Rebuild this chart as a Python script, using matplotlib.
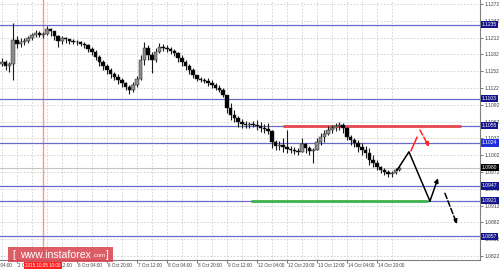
import numpy as np
import matplotlib.pyplot as plt
from matplotlib.patches import Rectangle
import matplotlib.transforms as mtransforms

plt.rcParams['font.family'] = ['Liberation Sans', 'DejaVu Sans']

# EURUSD H2 bars (high / low / close)
hi = [1.1176, 1.1172, 1.1168, 1.1238, 1.1215, 1.1211, 1.1211, 1.1215, 1.1220, 1.1226,
      1.1224, 1.1222, 1.1233, 1.1229, 1.1224, 1.1217, 1.1215, 1.1213, 1.1210, 1.1210,
      1.1208, 1.1206, 1.1204, 1.1201, 1.1195, 1.1190, 1.1181, 1.1172, 1.1165, 1.1158,
      1.1151, 1.1147, 1.1140, 1.1133, 1.1127, 1.1133, 1.1143, 1.1181, 1.1204, 1.1199,
      1.1186, 1.1193, 1.1202, 1.1201, 1.1199, 1.1195, 1.1192, 1.1186, 1.1181, 1.1172,
      1.1165, 1.1158, 1.1145, 1.1142, 1.1140, 1.1140, 1.1136, 1.1131, 1.1127, 1.1122,
      1.1110, 1.1095, 1.1083, 1.1072, 1.1067, 1.1063, 1.1061, 1.1063, 1.1065, 1.1061,
      1.1058, 1.1060, 1.1047, 1.1029, 1.1027, 1.1033, 1.1047, 1.1019, 1.1017, 1.1015,
      1.1033, 1.1024, 1.1019, 1.1015, 1.1033, 1.1042, 1.1047, 1.1054, 1.1056, 1.1060,
      1.1061, 1.1060, 1.1052, 1.1038, 1.1033, 1.1029, 1.1024, 1.1019, 1.1015, 1.1002,
      1.0993, 1.0983, 1.0979, 1.0976, 1.0974, 1.0979, 1.0983]
lo = [1.1161, 1.1154, 1.1151, 1.1136, 1.1193, 1.1195, 1.1199, 1.1202, 1.1208, 1.1213,
      1.1213, 1.1211, 1.1217, 1.1215, 1.1208, 1.1195, 1.1201, 1.1202, 1.1201, 1.1201,
      1.1199, 1.1197, 1.1193, 1.1186, 1.1181, 1.1172, 1.1161, 1.1154, 1.1147, 1.1140,
      1.1136, 1.1129, 1.1124, 1.1118, 1.1111, 1.1115, 1.1124, 1.1136, 1.1163, 1.1172,
      1.1149, 1.1168, 1.1184, 1.1188, 1.1186, 1.1183, 1.1179, 1.1168, 1.1161, 1.1154,
      1.1147, 1.1140, 1.1135, 1.1133, 1.1131, 1.1126, 1.1122, 1.1118, 1.1115, 1.1106,
      1.1077, 1.1065, 1.1061, 1.1052, 1.1051, 1.1051, 1.1051, 1.1052, 1.1047, 1.1043,
      1.1042, 1.1040, 1.1015, 1.1011, 1.1011, 1.1008, 1.1006, 1.1006, 1.1004, 1.1002,
      1.1008, 1.1006, 1.1002, 1.0988, 1.1011, 1.1020, 1.1026, 1.1038, 1.1042, 1.1045,
      1.1047, 1.1042, 1.1029, 1.1020, 1.1017, 1.1008, 1.1002, 1.0997, 1.0985, 1.0981,
      1.0976, 1.0970, 1.0967, 1.0963, 1.0963, 1.0968, 1.0974]
cl = [1.1168, 1.1161, 1.1165, 1.1208, 1.1201, 1.1204, 1.1206, 1.1211, 1.1217, 1.1220,
      1.1217, 1.1218, 1.1227, 1.1224, 1.1215, 1.1206, 1.1211, 1.1210, 1.1206, 1.1204,
      1.1204, 1.1201, 1.1199, 1.1192, 1.1186, 1.1177, 1.1168, 1.1161, 1.1154, 1.1147,
      1.1142, 1.1136, 1.1131, 1.1124, 1.1118, 1.1127, 1.1138, 1.1172, 1.1193, 1.1181,
      1.1172, 1.1186, 1.1195, 1.1193, 1.1192, 1.1188, 1.1184, 1.1176, 1.1168, 1.1161,
      1.1154, 1.1145, 1.1138, 1.1136, 1.1135, 1.1131, 1.1127, 1.1122, 1.1118, 1.1110,
      1.1086, 1.1074, 1.1068, 1.1061, 1.1058, 1.1056, 1.1058, 1.1056, 1.1054, 1.1051,
      1.1049, 1.1045, 1.1026, 1.1019, 1.1020, 1.1017, 1.1013, 1.1011, 1.1010, 1.1008,
      1.1022, 1.1015, 1.1010, 1.1011, 1.1026, 1.1034, 1.1040, 1.1047, 1.1051, 1.1054,
      1.1056, 1.1051, 1.1034, 1.1029, 1.1024, 1.1017, 1.1011, 1.1006, 1.0993, 1.0988,
      1.0981, 1.0976, 1.0972, 1.0968, 1.0970, 1.0976, 1.0980]
first_open = 1.1165

# support / resistance levels
levels = [1.1235, 1.1103, 1.1055, 1.1024, 1.0947, 1.0921, 1.0857]
level_colors = ['#14148c', '#14148c', '#14148c', '#1f2fe0', '#14148c', '#14148c', '#14148c']
bid = 1.0980

price_ticks = [1.1272, 1.1242, 1.1212, 1.1182, 1.1152, 1.1122, 1.1092, 1.1062,
               1.1032, 1.1002, 1.0972, 1.0942, 1.0912, 1.0882, 1.0852, 1.0822]

time_labels = ['2 Oct 04:00', '2 Oct 20:00', '5 Oct 12:00', '6 Oct 04:00', '6 Oct 20:00',
               '7 Oct 12:00', '8 Oct 04:00', '8 Oct 20:00', '9 Oct 12:00', '12 Oct 04:00',
               '12 Oct 20:00', '13 Oct 12:00', '14 Oct 04:00', '14 Oct 20:00']
vline_hour = 23
vline_label = '2015.10.05 10:00'

# drawn zones and forecast
resist_zone = (151, 246, 1.1055)
support_zone = (134, 228, 1.0921)
path_t = [211.7, 218.1, 229.3, 233.6]
path_p = [1.0975, 1.1008, 1.0920, 1.0961]
dash_black = [(237.3, 1.0934), (243.7, 1.0879)]
red_solid = [(219.2, 1.1010), (222.4, 1.1034)]
red_dash = [(224.0, 1.1047), (228.8, 1.1017)]

fig = plt.figure(figsize=(5, 2.7), dpi=100)
ax = fig.add_axes([0, 10 / 270, 480 / 500, 260 / 270])

label_pos = [-6.8 + 16 * j for j in range(len(time_labels))]
ax.yaxis.tick_right()
ax.set_yticks(price_ticks)
ax.set_yticklabels(['%.4f' % p for p in price_ticks])
ax.set_xticks(label_pos)
ax.set_xticklabels([])
ax.set_xlim(0, 256)
ax.set_ylim(1.0814857, 1.1279143)

# grid
for p in price_ticks:
    ax.axhline(p, color='#cfcfcf', lw=0.6, ls=(0, (2, 2)), zorder=0)
for j in range(len(time_labels) * 2):
    ax.axvline(-6.8 + 8 * j, color='#cfcfcf', lw=0.6, ls=(0, (2, 2)), zorder=0)

ax.axvline(vline_hour, color='#ff9090', lw=1.0, zorder=1)

for l in levels:
    ax.axhline(l, color='#6a6ac8', lw=0.9, zorder=1)
ax.axhline(bid, color='#c4c4c4', lw=0.8, zorder=1)

ax.plot([resist_zone[0], resist_zone[1]], [resist_zone[2]] * 2, color='#e8464f', lw=2.0, zorder=2,
        solid_capstyle='butt')
ax.plot([support_zone[0], support_zone[1]], [support_zone[2]] * 2, color='#3cb44b', lw=2.0, zorder=2,
        solid_capstyle='butt')

# candles
t = np.arange(len(cl)) * 2 + 1
op = np.array([first_open] + cl[:-1])
c = np.array(cl)
ax.vlines(t, lo, hi, color='#1a1a1a', lw=0.8, zorder=3)
body_col = ['#8c8c8c' if c[i] >= op[i] else 'black' for i in range(len(c))]
ax.bar(t, c - op, bottom=op, width=1.8, color=body_col, edgecolor='#1a1a1a', lw=0.3, zorder=4)

# forecast arrows
ax.plot(path_t[:-1], path_p[:-1], color='black', lw=1.1, zorder=5)
ax.annotate('', xy=(path_t[-1], path_p[-1]), xytext=(path_t[-2], path_p[-2]),
            arrowprops=dict(arrowstyle='-|>', color='black', lw=1.1, mutation_scale=6,
                            shrinkA=0, shrinkB=0), zorder=5)
ax.annotate('', xy=dash_black[1], xytext=dash_black[0],
            arrowprops=dict(arrowstyle='-|>', color='black', lw=1.1, ls='--', mutation_scale=6,
                            shrinkA=0, shrinkB=0), zorder=5)
ax.plot([red_solid[0][0], red_solid[1][0]], [red_solid[0][1], red_solid[1][1]],
        color='#ff2020', lw=1.1, zorder=5)
ax.annotate('', xy=red_dash[1], xytext=red_dash[0],
            arrowprops=dict(arrowstyle='-|>', color='#ff2020', lw=1.1, ls='--', mutation_scale=6,
                            shrinkA=0, shrinkB=0), zorder=5)

# axes look
for s in ['left', 'top']:
    ax.spines[s].set_visible(False)
for s in ['right', 'bottom']:
    ax.spines[s].set_color('#808080')
    ax.spines[s].set_linewidth(0.8)
ax.tick_params(axis='y', labelsize=3.6, length=2, pad=1.5, colors='#404040', width=0.5)
ax.tick_params(axis='x', length=2, width=0.5, colors='#404040')

# time labels, left aligned on their tick like the terminal does
tx = mtransforms.blended_transform_factory(ax.transData, ax.transAxes)
for pos, lab in zip(label_pos, time_labels):
    ax.text(pos + 0.6, -0.012, lab, transform=tx, ha='left', va='top', fontsize=3.3,
            color='#404040', clip_on=False)

trans = mtransforms.blended_transform_factory(ax.transAxes, ax.transData)
for l, col in zip(levels, level_colors):
    ax.text(1.004, l, '%.4f' % l, transform=trans, ha='left', va='center', fontsize=3.6,
            color='white', bbox=dict(boxstyle='square,pad=0.25', fc=col, ec='none'),
            clip_on=False, zorder=10)
ax.text(1.004, bid, '%.4f' % bid, transform=trans, ha='left', va='center', fontsize=3.6,
        color='white', bbox=dict(boxstyle='square,pad=0.25', fc='black', ec='none'),
        clip_on=False, zorder=10)

# label of the vertical line
ax.text(vline_hour, -0.012, vline_label, transform=tx, ha='center', va='top', fontsize=3.3,
        color='white', bbox=dict(boxstyle='square,pad=0.3', fc='#ff2020', ec='none'),
        clip_on=False, zorder=10)

# watermark
fig.add_artist(Rectangle((8 / 500, 8 / 270), 105 / 500, 15 / 270, transform=fig.transFigure,
                         fc='#d8404c', ec='none', alpha=0.85, zorder=20))
fig.text(12 / 500, 15.5 / 270, '[', color='white', fontsize=7, va='center', zorder=21)
fig.text(20 / 500, 15.5 / 270, 'www.instaforex', color='white', fontsize=7.6, va='center', zorder=21)
fig.text(92 / 500, 14.5 / 270, '.com', color='white', fontsize=4.4, va='center', zorder=21)
fig.text(106 / 500, 15.5 / 270, ']', color='white', fontsize=7, va='center', zorder=21)

fig.savefig('out.png', dpi=100, facecolor='white')
